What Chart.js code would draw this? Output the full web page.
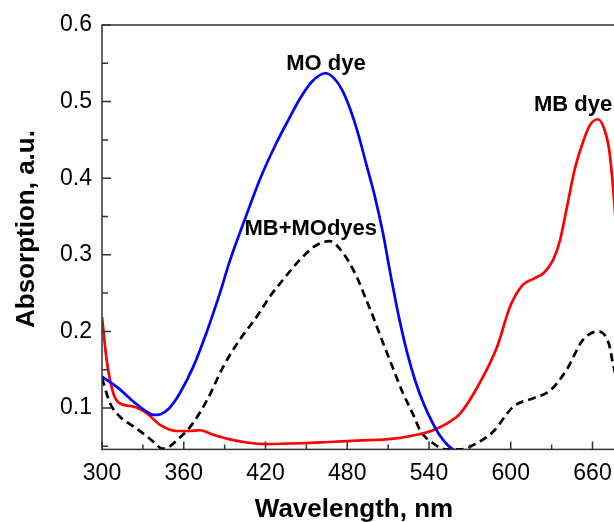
<!DOCTYPE html>
<html><head><meta charset="utf-8">
<script src="https://cdn.jsdelivr.net/npm/chart.js@4.4.1/dist/chart.umd.min.js"></script>
<style>
html,body{margin:0;padding:0;overflow:hidden;background:#fff;width:614px;height:522px}
#wrap{width:660px;height:522px}
</style></head>
<body><div id="wrap"><canvas id="c" width="660" height="522"></canvas></div>
<script>
// MO dye (blue)
const moWave=[300,312,324,333,338,343,349,357,367,377,386,394,405,416,428,438,445,454,464,470,476,482,488,494,500,506,512,518,524,530,536,542,548,554,560];
const moAbs =[0.141,0.126,0.107,0.095,0.091,0.092,0.099,0.119,0.154,0.200,0.247,0.293,0.347,0.399,0.446,0.480,0.503,0.526,0.537,0.531,0.516,0.491,0.458,0.418,0.378,0.330,0.272,0.218,0.172,0.135,0.106,0.083,0.064,0.051,0.043];
// MB dye (red)
const mbWave=[300,303.4,308.3,313,323,333,342.6,355,364,372,382,391.5,406,421,446,470,494.5,508,519,528,538,548,556,563,577,590,599.4,609,617,624,631,636,641,647,653,658,664,668.5,672,675,678,682];
const mbAbs =[0.219,0.163,0.119,0.106,0.102,0.093,0.078,0.070,0.070,0.071,0.065,0.060,0.055,0.053,0.054,0.056,0.058,0.059,0.061,0.064,0.068,0.075,0.083,0.093,0.132,0.180,0.232,0.261,0.269,0.276,0.293,0.318,0.360,0.412,0.447,0.469,0.477,0.465,0.440,0.390,0.320,0.240];
// MB+MO dyes (black dashed)
const mixWave=[300,306,313,323,333,339,344,349,355,365,377,389,401,413.5,423,434,445,456,467,477,487,494,499,506.5,514,521,528.5,533.4,543,553,563,575,587,602,617,629,641,653,664,672,675,680];
const mixAbs =[0.139,0.106,0.089,0.076,0.063,0.054,0.047,0.049,0.058,0.076,0.110,0.154,0.189,0.219,0.245,0.270,0.293,0.311,0.318,0.302,0.271,0.241,0.219,0.184,0.150,0.119,0.091,0.071,0.054,0.046,0.046,0.054,0.069,0.102,0.113,0.123,0.150,0.189,0.200,0.184,0.158,0.120];

const xTicks=[300,360,420,480,540,600,660];
const xMinor=[330,390,450,510,570,630,690];
const yTicks=[0.1,0.2,0.3,0.4,0.5,0.6];
const yMinor=[0.05,0.15,0.25,0.35,0.45,0.55];

const labelTexts=['MO dye','MB+MOdyes','MB dye'];
const labelX=[464.4,453.2,645.7];
const labelY=[0.549,0.334,0.496];

const xTitle='Wavelength, nm';
const yTitle='Absorption, a.u.';

const FONT='"Liberation Sans", Arial, sans-serif';
const pts=(xs,ys)=>xs.map((x,i)=>({x:x,y:ys[i]}));

const frameTicks={
  id:'frameTicks',
  afterDraw(chart){
    const {ctx,chartArea:a,scales:{x,y}}=chart;
    ctx.save();
    ctx.strokeStyle='#333';
    ctx.lineWidth=1.5;
    ctx.strokeRect(a.left,a.top,a.right-a.left,a.bottom-a.top);
    ctx.beginPath();
    xTicks.forEach(v=>{const p=x.getPixelForValue(v);ctx.moveTo(p,a.bottom);ctx.lineTo(p,a.bottom-8);});
    xMinor.forEach(v=>{const p=x.getPixelForValue(v);ctx.moveTo(p,a.bottom);ctx.lineTo(p,a.bottom-5);});
    yTicks.forEach(v=>{const p=y.getPixelForValue(v);ctx.moveTo(a.left,p);ctx.lineTo(a.left+9,p);});
    yMinor.forEach(v=>{const p=y.getPixelForValue(v);ctx.moveTo(a.left,p);ctx.lineTo(a.left+6,p);});
    ctx.stroke();
    // axis titles
    ctx.fillStyle='#000';
    ctx.font='bold 26px '+FONT;
    ctx.textAlign='center';
    ctx.textBaseline='middle';
    ctx.fillText(xTitle,354,509.5);
    ctx.translate(27,229);
    ctx.rotate(-Math.PI/2);
    ctx.fillText(yTitle,0,0);
    ctx.restore();
  }
};
const annot={
  id:'annot',
  afterDatasetsDraw(chart){
    const {ctx,scales:{x,y}}=chart;
    ctx.save();
    ctx.font='bold 22px '+FONT;
    ctx.fillStyle='#000';
    ctx.textAlign='center';
    ctx.textBaseline='middle';
    labelTexts.forEach((t,i)=>ctx.fillText(t,x.getPixelForValue(labelX[i]),y.getPixelForValue(labelY[i])));
    ctx.restore();
  }
};

new Chart(document.getElementById('c'),{
  type:'line',
  data:{datasets:[
    {label:'MO dye',data:pts(moWave,moAbs),borderColor:'#0000ff',borderWidth:2.7,pointRadius:0,cubicInterpolationMode:'monotone',fill:false},
    {label:'MB dye',data:pts(mbWave,mbAbs),borderColor:'#ff0000',borderWidth:2.7,pointRadius:0,cubicInterpolationMode:'monotone',fill:false},
    {label:'MB+MOdyes',data:pts(mixWave,mixAbs),borderColor:'#000000',borderWidth:2.7,borderDash:[8,5],pointRadius:0,cubicInterpolationMode:'monotone',fill:false}
  ]},
  options:{
    responsive:false,
    animation:false,
    layout:{padding:{top:25,right:13,left:0,bottom:0}},
    plugins:{legend:{display:false},tooltip:{enabled:false}},
    scales:{
      x:{type:'linear',min:300,max:700,
        afterBuildTicks:s=>{s.ticks=xTicks.map(v=>({value:v}));},
        afterFit:s=>{s.height=72.6;},
        grid:{display:false},border:{display:false},
        ticks:{font:{family:FONT,size:23},color:'#000',padding:2,maxRotation:0,callback:v=>String(v)},
        title:{display:false}
      },
      y:{type:'linear',min:0.046,max:0.6,
        afterBuildTicks:s=>{s.ticks=yTicks.map(v=>({value:v}));},
        afterFit:s=>{s.width=102;},
        grid:{display:false},border:{display:false},
        ticks:{font:{family:FONT,size:23},color:'#000',padding:2,callback:v=>Number(v).toFixed(1)},
        title:{display:false}
      }
    }
  },
  plugins:[frameTicks,annot]
});
</script>
</body></html>
